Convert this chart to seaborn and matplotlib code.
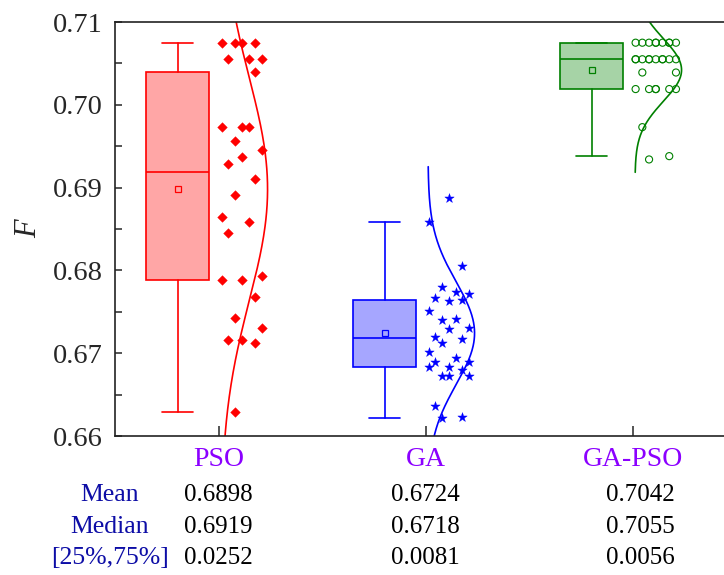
import numpy as np
import pandas as pd
import matplotlib
matplotlib.use("Agg")
import matplotlib.pyplot as plt
import matplotlib.transforms as mtransforms
from matplotlib.ticker import MultipleLocator, FormatStrFormatter
import seaborn as sns

# ---- data -------------------------------------------------------------
methods = ["PSO", "GA", "GA-PSO"]

pso_F = [0.7075, 0.7075, 0.7075, 0.7075, 0.7055, 0.7055, 0.7055, 0.7040,
         0.6973, 0.6973, 0.6973, 0.6956, 0.6946, 0.6937, 0.6928, 0.6910,
         0.6891, 0.6865, 0.6859, 0.6845, 0.6793, 0.6788, 0.6788, 0.6768,
         0.6742, 0.6731, 0.6716, 0.6716, 0.6712, 0.6629]

ga_F = [0.6887, 0.6858, 0.6805, 0.6780, 0.6771, 0.6774, 0.6767, 0.6764,
        0.6763, 0.6751, 0.6741, 0.6740, 0.6730, 0.6729, 0.6719, 0.6717,
        0.6712, 0.6702, 0.6694, 0.6689, 0.6689, 0.6683, 0.6683, 0.6680,
        0.6673, 0.6672, 0.6672, 0.6636, 0.6623, 0.6622]

gapso_F = [0.7075, 0.7075, 0.7075, 0.7075, 0.7075, 0.7075, 0.7075, 0.7075,
           0.7075, 0.7055, 0.7055, 0.7055, 0.7055, 0.7055, 0.7055, 0.7055,
           0.7055, 0.7055, 0.7055, 0.7039, 0.7039, 0.7019, 0.7019, 0.7019,
           0.7019, 0.7019, 0.7019, 0.6973, 0.6938, 0.6934]

stat_names = ["Mean", "Median", "[25%,75%]"]

# ---- styling ----------------------------------------------------------
edge_colors = {"PSO": "#FF0000", "GA": "#0000FF", "GA-PSO": "#008000"}
fill_colors = {"PSO": "#FFA6A6", "GA": "#A6A6FF", "GA-PSO": "#A6D3A6"}
markers = {"PSO": "D", "GA": "*", "GA-PSO": "o"}
marker_sizes = {"PSO": 24, "GA": 50, "GA-PSO": 26}

sns.set_style("ticks")
plt.rcParams["font.family"] = ["Liberation Serif", "DejaVu Serif"]

df = pd.DataFrame({
    "method": np.repeat(methods, [len(pso_F), len(ga_F), len(gapso_F)]),
    "F": np.concatenate([pso_F, ga_F, gapso_F]),
})
df["pos"] = df["method"].map({m: i for i, m in enumerate(methods)})
# deterministic one-sided jitter in discrete columns right of each category
N_COLS = 7
df["idx"] = df.groupby("method").cumcount()
df["col"] = np.floor(np.mod(0.5 + df["idx"] * 0.6180339887, 1.0) * N_COLS)
df["xj"] = df["pos"] + 0.015 + 0.0325 * df["col"]

fig = plt.figure(figsize=(7.24, 5.75), dpi=100)
ax = fig.add_axes([115 / 724, 1 - 436 / 575, 621 / 724, 414 / 575])

BOX_SHIFT = -0.197
BOX_W = 0.304


def box_stats(values):
    v = np.sort(np.asarray(values, dtype=float))
    q1, q3 = np.percentile(v, [25, 75], method="inverted_cdf")
    iqr = q3 - q1
    lo = v[v >= q1 - 1.5 * iqr - 1e-12].min()
    hi = v[v <= q3 + 1.5 * iqr + 1e-12].max()
    return dict(med=np.median(v), q1=q1, q3=q3, whislo=lo, whishi=hi,
                mean=v.mean(), fliers=[], iqr=iqr)


table_rows = {name: [] for name in stat_names}

for i, m in enumerate(methods):
    sub = df[df["method"] == m]
    st = box_stats(sub["F"])
    table_rows["Mean"].append(f"{st['mean']:.4f}")
    table_rows["Median"].append(f"{st['med']:.4f}")
    table_rows["[25%,75%]"].append(f"{st['iqr']:.4f}")
    ec, fc = edge_colors[m], fill_colors[m]

    ax.bxp([st], positions=[i + BOX_SHIFT], widths=BOX_W, capwidths=BOX_W / 2,
           patch_artist=True, showmeans=True, showfliers=False, manage_ticks=False,
           boxprops=dict(facecolor=fc, edgecolor=ec, linewidth=1.2),
           whiskerprops=dict(color=ec, linewidth=1.2),
           capprops=dict(color=ec, linewidth=1.2),
           medianprops=dict(color=ec, linewidth=1.2),
           meanprops=dict(marker="s", markerfacecolor=fc, markeredgecolor=ec,
                          markersize=4.5, markeredgewidth=0.9))

    # individual observations
    if m == "GA-PSO":
        sns.scatterplot(data=sub, x="xj", y="F", ax=ax, marker=markers[m],
                        s=marker_sizes[m], color=ec, facecolor="none",
                        edgecolor=ec, linewidth=0.8, legend=False, zorder=3)
    else:
        sns.scatterplot(data=sub, x="xj", y="F", ax=ax, marker=markers[m],
                        s=marker_sizes[m], color=ec, edgecolor=ec,
                        linewidth=0.3, legend=False, zorder=3)

    # fitted normal curve drawn sideways
    mu, sd = sub["F"].mean(), sub["F"].std(ddof=1)
    yy = np.linspace(mu - 3.25 * sd, mu + 3.25 * sd, 300)
    xx = i + 0.012 + 0.225 * np.exp(-0.5 * ((yy - mu) / sd) ** 2)
    curve = pd.DataFrame({"x": xx, "y": yy})
    sns.lineplot(data=curve, x="x", y="y", ax=ax, orient="y", sort=False,
                 estimator=None, color=ec, linewidth=1.2, zorder=2)

# ---- axes -------------------------------------------------------------
ax.set_xlim(-0.5, 2.5)
ax.set_ylim(0.66, 0.71)
ax.yaxis.set_major_locator(MultipleLocator(0.01))
ax.yaxis.set_minor_locator(MultipleLocator(0.005))
ax.yaxis.set_major_formatter(FormatStrFormatter("%.2f"))
ax.set_xticks(range(len(methods)))
ax.set_xticklabels(methods, color="#8B00FF", fontsize=20)
ax.tick_params(axis="y", which="both", direction="in", length=5, width=1.1,
               labelsize=20.5, pad=8.6, right=False)
ax.tick_params(axis="x", direction="in", length=7, width=1.1, pad=8, top=False)
ax.set_xlabel("")
ax.set_ylabel("F", fontsize=22, style="italic", labelpad=7)
for sp in ax.spines.values():
    sp.set_linewidth(1.2)
    sp.set_color("#222222")
    sp.set_visible(True)

# ---- statistics table under the axis ---------------------------------
row_y = [1 - 501 / 575, 1 - 533 / 575, 1 - 564 / 575]
col_x = [0.0, 1.0, 2.04]
trans = mtransforms.blended_transform_factory(ax.transData, fig.transFigure)
for name, yv in zip(stat_names, row_y):
    fig.text(110 / 724, yv, name, ha="center", va="baseline", fontsize=18.5,
             color="#0D0DA6")
    for xv, txt in zip(col_x, table_rows[name]):
        ax.text(xv, yv, txt, transform=trans, ha="center", va="baseline",
                fontsize=18, color="black", clip_on=False)

fig.savefig("out.png", dpi=100)
